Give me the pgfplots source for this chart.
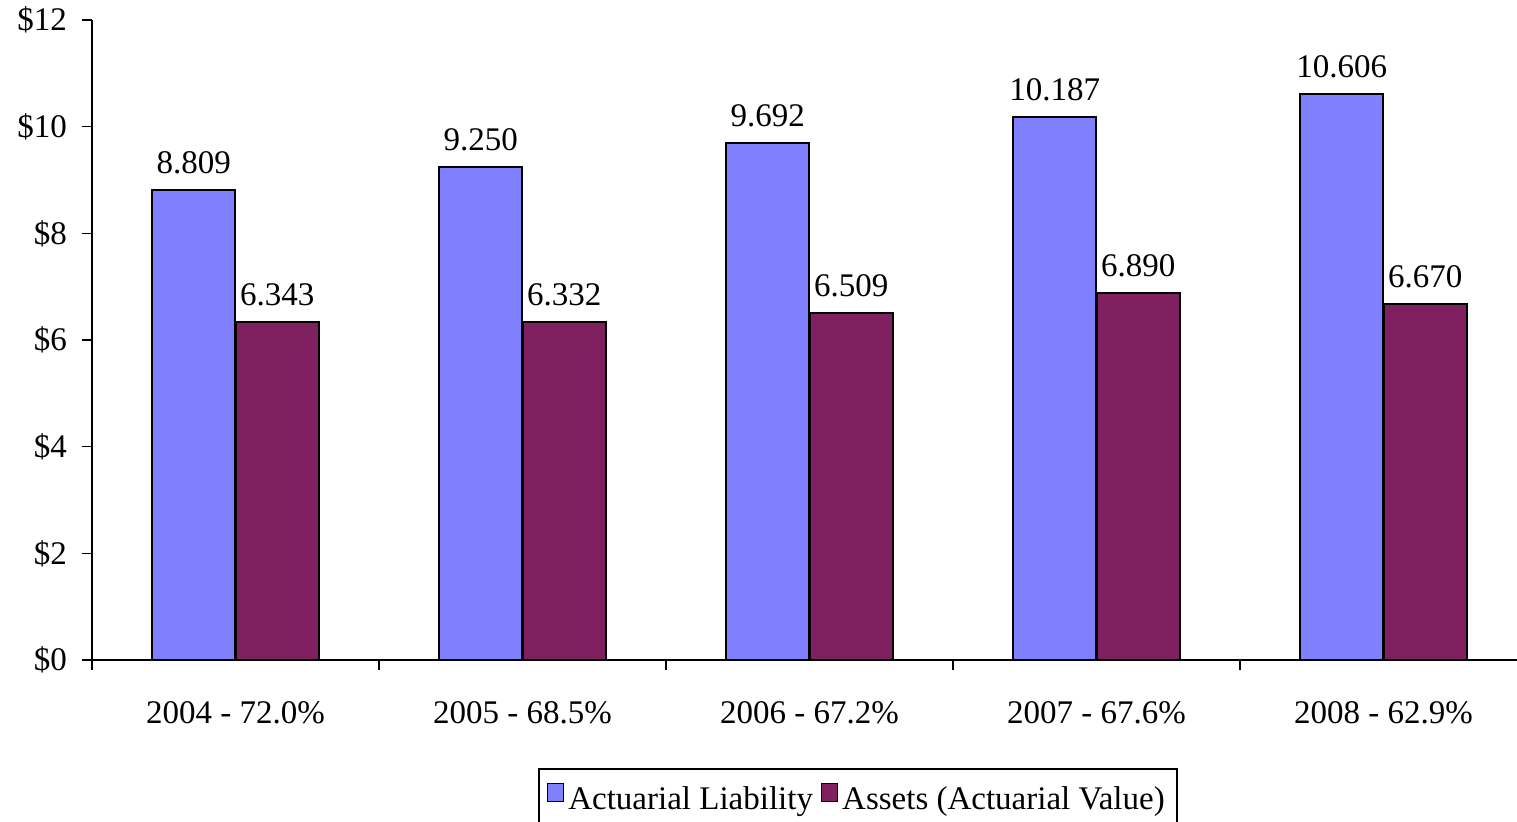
\documentclass[border=0pt]{standalone}
\usepackage{pgfplots}
\pgfplotsset{compat=1.18}
\usepackage{fontspec}
\setmainfont{Liberation Serif}
\usetikzlibrary{calc}
\definecolor{liab}{HTML}{8080FF}
\definecolor{asset}{HTML}{802060}
\begin{document}
\begin{tikzpicture}
\begin{axis}[
  scale only axis,
  width=712.5pt, height=320pt,
  xmin=-0.5, xmax=4.465,
  ymin=0, ymax=12,
  axis x line*=bottom, axis y line*=left,
  axis line style={line width=0.8pt, -},
  ytick={0,2,4,6,8,10,12},
  yticklabels={\$0,\$2,\$4,\$6,\$8,\$10,\$12},
  y tick style={line width=0.8pt, black},
  tick align=outside,
  major tick length=5pt,
  xtick={0,1,2,3,4},
  xticklabels={2004 - 72.0\%,2005 - 68.5\%,2006 - 67.2\%,2007 - 67.6\%,2008 - 62.9\%},
  x tick style={draw=none},
  extra x ticks={-0.5,0.5,1.5,2.5,3.5},
  extra x tick labels={},
  extra x tick style={x tick style={draw=black, line width=0.8pt}, major tick length=5pt},
  tick label style={font=\fontsize{16.5}{19}\selectfont},
  xticklabel style={yshift=-12pt},
  yticklabel style={xshift=-4pt},
  /pgf/number format/assume math mode=true,
  ybar, bar width=0.29,
  nodes near coords={\pgfmathprintnumber[fixed,fixed zerofill,precision=3]{\pgfplotspointmeta}},
  nodes near coords style={font=\fontsize{16.5}{19}\selectfont, anchor=south, inner sep=0pt, yshift=7.5pt},
  legend style={at={(0.5375,-0.16875)}, anchor=north, draw=black, line width=0.8pt,
    font=\fontsize{16.5}{19}\selectfont, legend columns=-1, inner xsep=4pt, inner ysep=7pt,
    /tikz/every even column/.append style={column sep=2pt}},
  legend image code/.code={\draw[#1, line width=0.6pt] (0pt,-1pt) rectangle (8pt,8pt);},
  clip=false,
]
\addplot[fill=liab, draw=black, line width=1pt, bar shift=-0.1455] coordinates {(0,8.809) (1,9.250) (2,9.692) (3,10.187) (4,10.606)};
\addplot[fill=asset, draw=black, line width=1pt, bar shift=0.1455] coordinates {(0,6.343) (1,6.332) (2,6.509) (3,6.890) (4,6.670)};
\legend{Actuarial Liability,Assets (Actuarial Value)}
\coordinate (sw) at (rel axis cs:0,0);
\coordinate (ne) at (rel axis cs:1,1);
\end{axis}
\pgfresetboundingbox
\path[use as bounding box] ($(sw)+(-46pt,-81pt)$) rectangle ($(ne)+(0pt,10pt)$);
\end{tikzpicture}
\end{document}
